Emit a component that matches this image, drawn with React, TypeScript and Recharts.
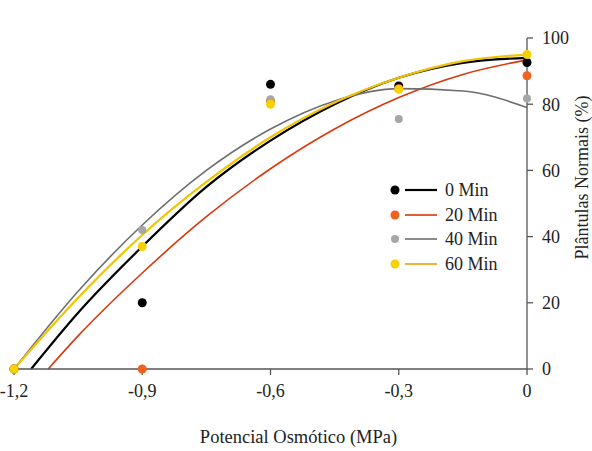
import React from 'react'
import { ComposedChart, Line, Scatter, XAxis, YAxis, Label } from 'recharts'

// observed points (x = osmotic potential, MPa)
const pointX = [-1.2, -0.9, -0.6, -0.3, 0]
const min0Points = [0, 20, 86, 85.5, 92.6]
const min20Points = [0, 0, 81, 84.7, 88.6]
const min40Points = [0, 42, 81.5, 75.5, 81.7]
const min60Points = [0, 37, 80, 84.5, 95]

// fitted curves
const min0CurveX = [-1.16, -1.05, -0.9, -0.75, -0.6, -0.45, -0.3, -0.15, 0]
const min0Curve = [0, 17, 37, 55, 69, 80, 88, 92.5, 94]
const min20CurveX = [-1.12, -1.05, -0.9, -0.75, -0.6, -0.45, -0.3, -0.15, 0]
const min20Curve = [0, 10, 29, 46, 60.5, 72.5, 82, 89, 93.4]
const min40CurveX = [-1.2, -1.05, -0.9, -0.75, -0.6, -0.45, -0.3, -0.15, 0]
const min40Curve = [0, 23.5, 43.5, 60, 72.5, 81, 84.7, 84, 79]
const min60CurveX = [-1.2, -1.05, -0.9, -0.75, -0.6, -0.45, -0.3, -0.15, 0]
const min60Curve = [0, 21.5, 40.5, 56.5, 70, 80.5, 88, 93, 95]

const xTicks = [-1.2, -0.9, -0.6, -0.3, 0]
const yTicks = [0, 20, 40, 60, 80, 100]
const seriesNames = ['0 Min', '20 Min', '40 Min', '60 Min']

const toRows = (xs: number[], ys: number[]) => xs.map((x, i) => ({ x, y: ys[i] }))

const FONT = "'Liberation Serif', 'Times New Roman', serif"
const AXIS = '#555'

const series = [
  { name: seriesNames[0], dot: '#000000', line: '#000000', width: 2.2, dotR: 4.5, points: min0Points, cx: min0CurveX, cy: min0Curve },
  { name: seriesNames[1], dot: '#f0621e', line: '#d8380c', width: 1.6, dotR: 4.5, points: min20Points, cx: min20CurveX, cy: min20Curve },
  { name: seriesNames[2], dot: '#a6a6a6', line: '#6e6e6e', width: 1.6, dotR: 4, points: min40Points, cx: min40CurveX, cy: min40Curve },
  { name: seriesNames[3], dot: '#f7d000', line: '#f0c400', width: 2.2, dotR: 4.5, points: min60Points, cx: min60CurveX, cy: min60Curve }
]

const legendLine = ['#000000', '#d8380c', '#6e6e6e', '#e8a200']

function ChartLegend() {
  return (
    <div style={{ position: 'absolute', left: 388, top: 178, fontFamily: FONT, fontSize: 18, color: '#222' }}>
      {series.map((s, i) => (
        <div key={s.name} style={{ display: 'flex', alignItems: 'center', height: 24.5 }}>
          <svg width={50} height={24}>
            <circle cx={7} cy={12} r={s.dotR} fill={s.dot} />
            <line x1={17} x2={49} y1={12} y2={12} stroke={legendLine[i]} strokeWidth={i === 0 ? 2.2 : 1.6} />
          </svg>
          <span style={{ marginLeft: 7, lineHeight: '24px' }}>{s.name}</span>
        </div>
      ))}
    </div>
  )
}

const renderXTitle = (props: any) => {
  const vb = props.viewBox
  return (
    <text x={vb.x + vb.width / 2 + 28} y={vb.y + 74} textAnchor='middle' fontFamily={FONT} fontSize={18.5} fill='#222'>
      Potencial Osmótico (MPa)
    </text>
  )
}

const renderYTitle = (props: any) => {
  const vb = props.viewBox
  const x = vb.x + 61
  const y = vb.y + vb.height / 2 - 26
  return (
    <text x={x} y={y} transform={`rotate(-90, ${x}, ${y})`} textAnchor='middle' fontFamily={FONT} fontSize={18} fill='#222'>
      Plântulas Normais (%)
    </text>
  )
}

export default function App() {
  const tickStyle = { fontFamily: FONT, fontSize: 18, fill: '#222' }
  return (
    <div style={{ position: 'absolute', left: 0, top: 0, width: 592, height: 451, background: '#fff' }}>
      <ComposedChart width={592} height={451} margin={{ top: 38, right: 0, left: 14, bottom: 0 }}>
        <XAxis
          type='number'
          dataKey='x'
          domain={[-1.2, 0]}
          ticks={xTicks}
          interval={0}
          tickFormatter={(v: number) => String(v).replace('.', ',')}
          height={82}
          tickSize={6}
          tickMargin={9}
          tick={tickStyle}
          axisLine={{ stroke: AXIS, strokeWidth: 1.3 }}
          tickLine={{ stroke: AXIS, strokeWidth: 1.3 }}
        >
          <Label content={renderXTitle} />
        </XAxis>
        <YAxis
          type='number'
          dataKey='y'
          orientation='right'
          domain={[0, 100]}
          ticks={yTicks}
          interval={0}
          width={65}
          tickSize={6}
          tickMargin={9}
          tick={tickStyle}
          axisLine={{ stroke: AXIS, strokeWidth: 1.3 }}
          tickLine={{ stroke: AXIS, strokeWidth: 1.3 }}
        >
          <Label content={renderYTitle} />
        </YAxis>
        {series.map((s) => (
          <Line
            key={'l' + s.name}
            data={toRows(s.cx, s.cy)}
            dataKey='y'
            type='monotone'
            stroke={s.line}
            strokeWidth={s.width}
            dot={false}
            activeDot={false}
            legendType='none'
            isAnimationActive={false}
          />
        ))}
        {series.map((s) => (
          <Scatter
            key={'s' + s.name}
            name={s.name}
            data={toRows(pointX, s.points)}
            dataKey='y'
            fill={s.dot}
            shape={(p: any) => <circle cx={p.cx} cy={p.cy} r={s.dotR} fill={s.dot} />}
            isAnimationActive={false}
          />
        ))}
      </ComposedChart>
      <ChartLegend />
    </div>
  )
}
